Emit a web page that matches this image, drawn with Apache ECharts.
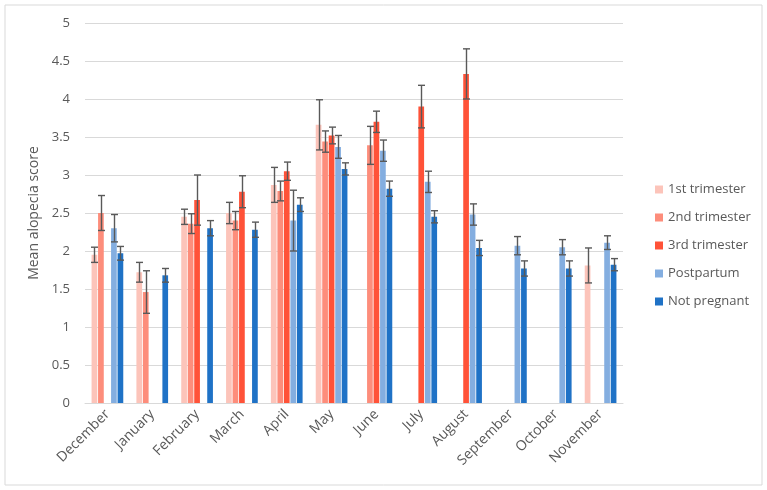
<!DOCTYPE html>
<html>
<head>
<meta charset="utf-8">
<script src="https://cdn.jsdelivr.net/npm/echarts@6/dist/echarts.min.js"></script>
<style>
  html, body { margin: 0; padding: 0; background: #fff; }
  #chart { width: 767px; height: 490px; }
</style>
</head>
<body>
<div id="chart"></div>
<script>
var months = ['December', 'January', 'February', 'March', 'April', 'May', 'June', 'July', 'August', 'September', 'October', 'November'];
var yTicks = [0, 0.5, 1, 1.5, 2, 2.5, 3, 3.5, 4, 4.5, 5];

var first = [1.95, 1.72, 2.45, 2.50, 2.87, 3.66, null, null, null, null, null, 1.81];
var firstErr = [0.10, 0.13, 0.10, 0.14, 0.23, 0.33, null, null, null, null, null, 0.23];
var second = [2.50, 1.46, 2.36, 2.40, 2.79, 3.44, 3.39, null, null, null, null, null];
var secondErr = [0.23, 0.28, 0.13, 0.12, 0.13, 0.14, 0.25, null, null, null, null, null];
var third = [null, null, 2.67, 2.78, 3.05, 3.52, 3.70, 3.90, 4.33, null, null, null];
var thirdErr = [null, null, 0.33, 0.21, 0.12, 0.11, 0.14, 0.28, 0.33, null, null, null];
var postpartum = [2.30, null, null, null, 2.40, 3.37, 3.32, 2.91, 2.48, 2.07, 2.05, 2.11];
var postpartumErr = [0.18, null, null, null, 0.40, 0.15, 0.14, 0.14, 0.14, 0.12, 0.10, 0.09];
var notPregnant = [1.97, 1.68, 2.30, 2.28, 2.61, 3.08, 2.82, 2.45, 2.04, 1.77, 1.77, 1.82];
var notPregnantErr = [0.09, 0.09, 0.10, 0.10, 0.09, 0.08, 0.10, 0.08, 0.10, 0.10, 0.10, 0.08];

var names = ['1st trimester', '2nd trimester', '3rd trimester', 'Postpartum', 'Not pregnant'];
var colors = ['#fcc4ba', '#fd8d7b', '#ff5238', '#84aee0', '#1f72c6'];
var values = [first, second, third, postpartum, notPregnant];
var errors = [firstErr, secondErr, thirdErr, postpartumErr, notPregnantErr];

var barW = 5.7;
var gapRatio = 0.14;
var pitch = barW * (1 + gapRatio);
var textColor = '#595959';
var font = 'Open Sans';

var chart = echarts.init(document.getElementById('chart'));

var series = [];
for (var i = 0; i < 5; i++) {
    series.push({
        name: names[i],
        type: 'bar',
        barWidth: barW,
        barGap: (gapRatio * 100) + '%',
        itemStyle: { color: colors[i] },
        data: values[i].map(function (v) { return v === null ? '-' : v; })
    });
}

// error bars
for (var j = 0; j < 5; j++) {
    var errData = [];
    for (var k = 0; k < months.length; k++) {
        if (values[j][k] !== null && errors[j][k] !== null) {
            errData.push([k, values[j][k] - errors[j][k], values[j][k] + errors[j][k]]);
        }
    }
    (function (slot) {
        series.push({
            type: 'custom',
            name: names[slot] + ' err',
            silent: true,
            z: 5,
            renderItem: function (params, api) {
                var lo = api.coord([api.value(0), api.value(1)]);
                var hi = api.coord([api.value(0), api.value(2)]);
                var x = Math.round(lo[0] + (slot - 2) * pitch) + 0.5;
                var cap = 3.5;
                var st = { stroke: '#595959', lineWidth: 1.4 };
                return {
                    type: 'group',
                    children: [
                        { type: 'line', shape: { x1: x, y1: hi[1], x2: x, y2: lo[1] }, style: st },
                        { type: 'line', shape: { x1: x - cap, y1: hi[1], x2: x + cap, y2: hi[1] }, style: st },
                        { type: 'line', shape: { x1: x - cap, y1: lo[1], x2: x + cap, y2: lo[1] }, style: st }
                    ]
                };
            },
            encode: { x: 0, y: [1, 2] },
            data: errData
        });
    })(j);
}

var option = {
    animation: false,
    backgroundColor: '#fff',
    textStyle: { fontFamily: font },
    graphic: [{
        type: 'rect',
        shape: { x: 5, y: 5, width: 757, height: 480 },
        style: { fill: 'none', stroke: '#d9d9d9', lineWidth: 1 },
        silent: true
    }],
    grid: {
        left: 85,
        right: 144,
        top: 23,
        bottom: 87
    },
    legend: {
        data: names,
        orient: 'vertical',
        left: 650,
        top: 178,
        itemWidth: 8,
        itemHeight: 8,
        itemGap: 15,
        icon: 'rect',
        textStyle: { color: textColor, fontSize: 13, fontFamily: font }
    },
    xAxis: {
        type: 'category',
        data: months,
        boundaryGap: true,
        axisLine: { lineStyle: { color: '#d9d9d9', width: 1 } },
        axisTick: { show: false },
        axisLabel: {
            rotate: 45,
            color: textColor,
            fontSize: 14,
            fontFamily: font,
            margin: 9,
            interval: 0
        }
    },
    yAxis: {
        type: 'value',
        min: yTicks[0],
        max: yTicks[yTicks.length - 1],
        interval: 0.5,
        name: 'Mean alopecia score',
        nameLocation: 'middle',
        nameGap: 42,
        nameTextStyle: { color: textColor, fontSize: 14, fontFamily: font },
        axisLine: { show: false },
        axisTick: { show: false },
        axisLabel: { color: textColor, fontSize: 13, fontFamily: font, margin: 15 },
        splitLine: { lineStyle: { color: '#d9d9d9', width: 1 } }
    },
    series: series
};
chart.setOption(option);
</script>
</body>
</html>
